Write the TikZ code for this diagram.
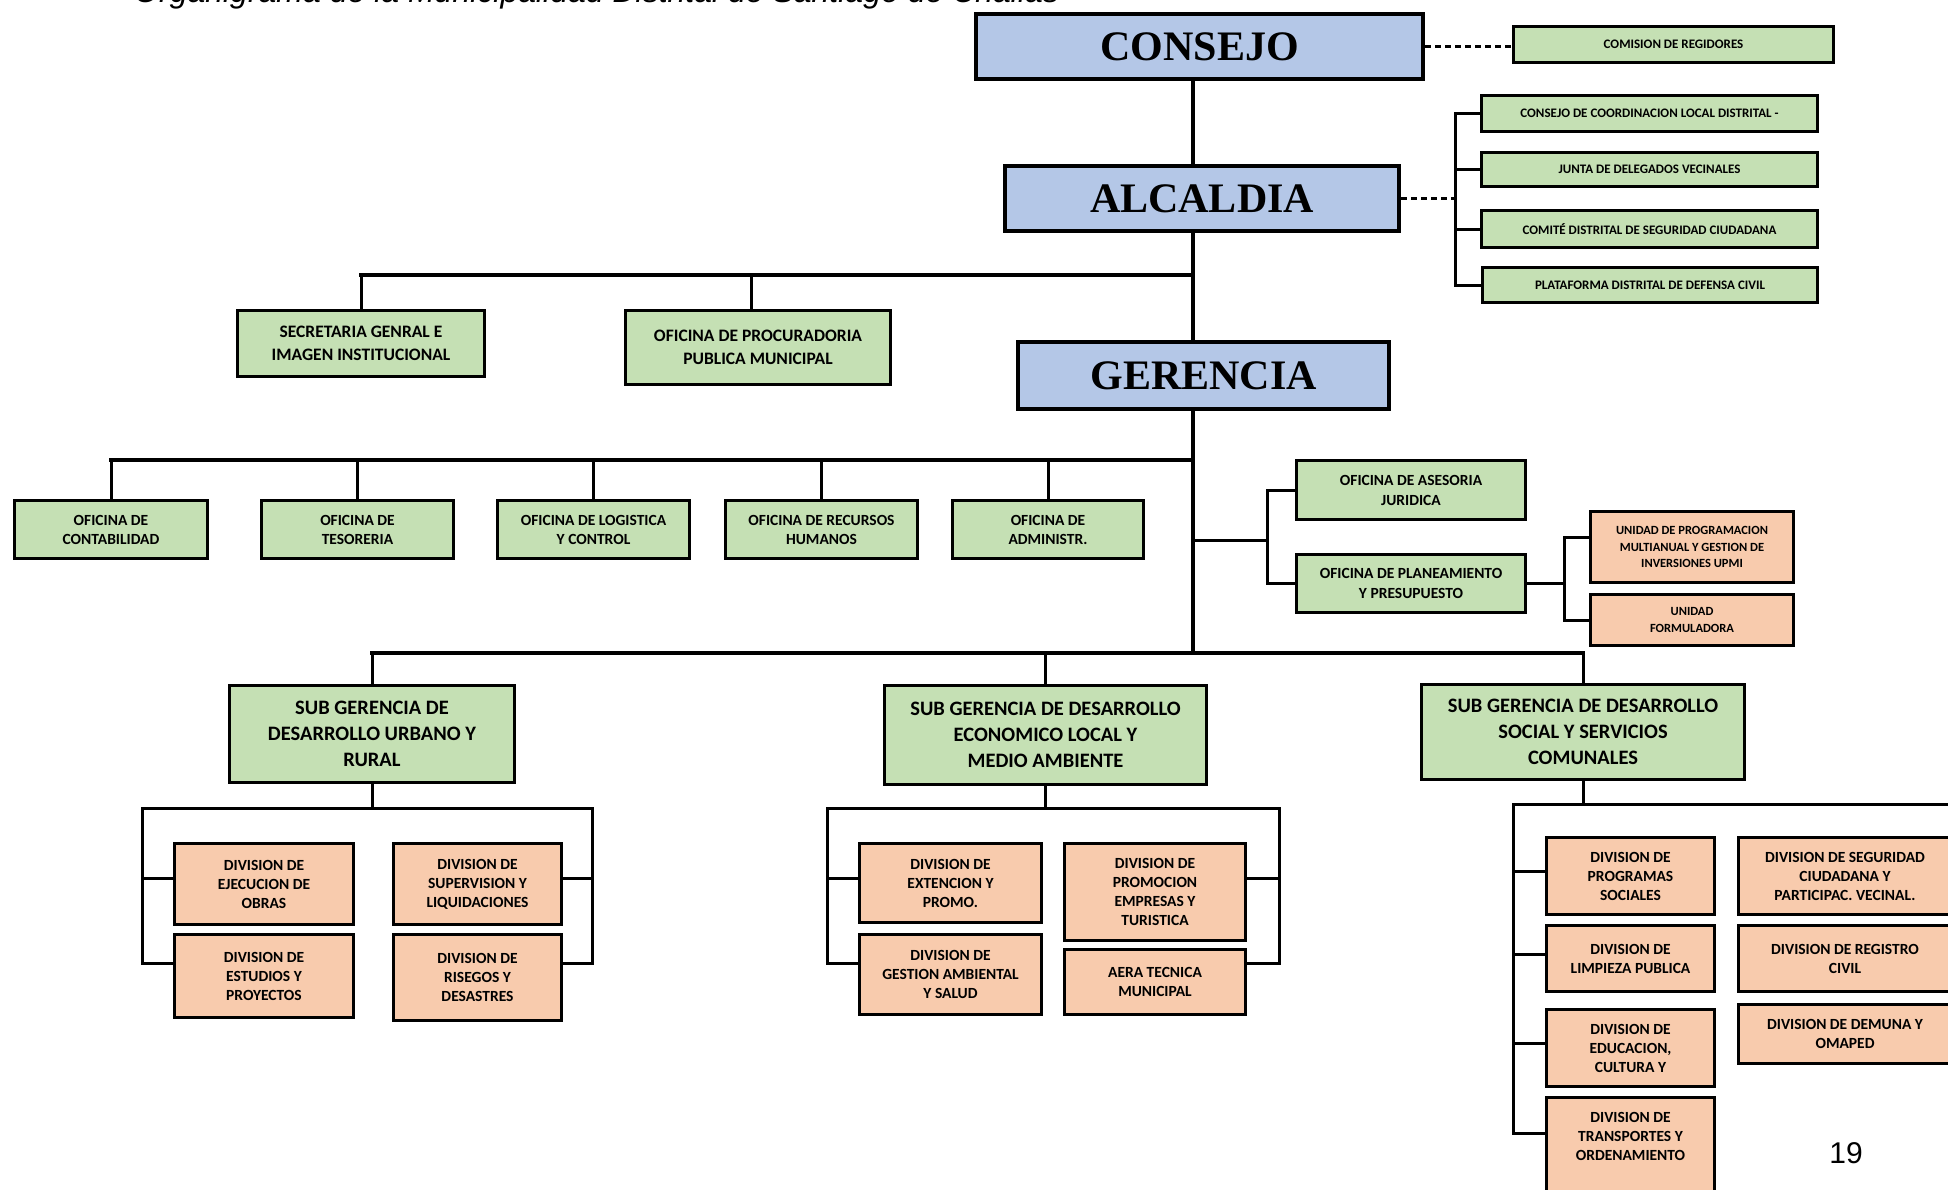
\documentclass[tikz,border=0pt]{standalone}
\usepackage{fontspec}
\setmainfont{Carlito}
\newfontfamily\timesbf{Liberation Serif}
\newfontfamily\arialf{Liberation Sans}
\usetikzlibrary{calc}
\definecolor{azul}{HTML}{B4C7E7}
\definecolor{verde}{HTML}{C5E0B4}
\definecolor{naranja}{HTML}{F8CBAD}
\newcommand\tam[2]{\fontsize{#1}{#2}\selectfont}

\begin{document}
\begin{tikzpicture}[x=1pt,y=-1pt,
    caja/.style={draw,line width=3pt,align=center,inner sep=0pt},
    jefe/.style={caja,line width=4pt,fill=azul,font=\timesbf\bfseries\tam{42}{48}},
    ofichica/.style={caja,fill=verde,font=\bfseries\tam{13}{16}},
    ofimedia/.style={caja,fill=verde,font=\bfseries\tam{15.5}{19}},
    ofigrande/.style={caja,fill=verde,font=\bfseries\tam{17.5}{23}},
    subger/.style={caja,fill=verde,font=\bfseries\tam{20.5}{26}},
    div/.style={caja,fill=naranja,font=\bfseries\tam{15.5}{19}},
    linea/.style={line width=3pt,line cap=rect},
    tronco/.style={line width=4pt,line cap=rect},
    punteado/.style={line width=2.5pt,dash pattern=on 6pt off 4pt}]
  \useasboundingbox (0,0) rectangle (1948,1189);

  \node[anchor=base west,inner sep=0pt,font=\arialf\itshape\tam{32}{36}] (titulo) at (134,2) {Organigrama de la Municipalidad Distrital de Santiago de Challas};

  \node[jefe,minimum width=447pt,minimum height=65pt] (consejo) at (1199.5,46.5) {CONSEJO};
  \node[jefe,minimum width=394pt,minimum height=65pt] (alcaldia) at (1202,198.5) {ALCALDIA};
  \node[jefe,minimum width=371pt,minimum height=67pt] (gerencia) at (1203.5,375.5) {GERENCIA};

  \node[ofichica,minimum width=320pt,minimum height=36pt] (comision) at (1673.5,44.5) {COMISION DE REGIDORES};
  \node[ofichica,minimum width=336pt,minimum height=36pt] (ccld) at (1649.5,113.5) {CONSEJO DE COORDINACION LOCAL DISTRITAL -};
  \node[ofichica,minimum width=336pt,minimum height=34pt] (junta) at (1649.5,169.5) {JUNTA DE DELEGADOS VECINALES};
  \node[ofichica,minimum width=336pt,minimum height=37pt] (comite) at (1649.5,229) {COMITÉ DISTRITAL DE SEGURIDAD CIUDADANA};
  \node[ofichica,minimum width=335pt,minimum height=35pt] (plata) at (1650,285) {PLATAFORMA DISTRITAL DE DEFENSA CIVIL};

  \node[ofigrande,minimum width=247pt,minimum height=66pt] (secre) at (361,343.5) {SECRETARIA GENRAL E\\IMAGEN INSTITUCIONAL};
  \node[ofigrande,minimum width=265pt,minimum height=74pt] (procu) at (758,347.5) {OFICINA DE PROCURADORIA\\PUBLICA MUNICIPAL};

  \node[ofimedia,minimum width=193pt,minimum height=58pt] (conta) at (111,529.5) {OFICINA DE\\CONTABILIDAD};
  \node[ofimedia,minimum width=192pt,minimum height=58pt] (teso) at (357.5,529.5) {OFICINA DE\\TESORERIA};
  \node[ofimedia,minimum width=192pt,minimum height=58pt] (logis) at (593.5,529.5) {OFICINA DE LOGISTICA\\Y CONTROL};
  \node[ofimedia,minimum width=192pt,minimum height=58pt] (rrhh) at (821.5,529.5) {OFICINA DE RECURSOS\\HUMANOS};
  \node[ofimedia,minimum width=191pt,minimum height=58pt] (admin) at (1048,529.5) {OFICINA DE\\ADMINISTR.};

  \node[ofimedia,font=\bfseries\tam{15.5}{20},minimum width=229pt,minimum height=59pt] (aseso) at (1411,490) {OFICINA DE ASESORIA\\JURIDICA};
  \node[ofimedia,font=\bfseries\tam{15.5}{20},minimum width=229pt,minimum height=58pt] (plane) at (1411,583.5) {OFICINA DE PLANEAMIENTO\\Y PRESUPUESTO};
  \node[div,font=\bfseries\tam{12.5}{16.5},minimum width=203pt,minimum height=71pt] (upmi) at (1692,547) {UNIDAD DE PROGRAMACION\\MULTIANUAL Y GESTION DE\\INVERSIONES UPMI};
  \node[div,font=\bfseries\tam{12.5}{16.5},minimum width=203pt,minimum height=51pt] (formu) at (1692,620) {UNIDAD\\FORMULADORA};

  \node[subger,minimum width=285pt,minimum height=97pt] (sgurb) at (372,734) {SUB GERENCIA DE\\DESARROLLO URBANO Y\\RURAL};
  \node[subger,minimum width=322pt,minimum height=99pt] (sgeco) at (1045.5,735) {SUB GERENCIA DE DESARROLLO\\ECONOMICO LOCAL Y\\MEDIO AMBIENTE};
  \node[subger,minimum width=323pt,minimum height=95pt] (sgsoc) at (1583,732) {SUB GERENCIA DE DESARROLLO\\SOCIAL Y SERVICIOS\\COMUNALES};

  \node[div,minimum width=179pt,minimum height=81pt] (ejec) at (264,884) {DIVISION DE\\EJECUCION DE\\OBRAS};
  \node[div,minimum width=179pt,minimum height=83pt] (estud) at (264,976) {DIVISION DE\\ESTUDIOS Y\\PROYECTOS};
  \node[div,minimum width=168pt,minimum height=81pt] (superv) at (477.5,884) {DIVISION DE\\SUPERVISION Y\\LIQUIDACIONES};
  \node[div,minimum width=168pt,minimum height=86pt] (riesg) at (477.5,977.5) {DIVISION DE\\RISEGOS Y\\DESASTRES};

  \node[div,minimum width=182pt,minimum height=79pt] (exten) at (950.5,883) {DIVISION DE\\EXTENCION Y\\PROMO.};
  \node[div,minimum width=182pt,minimum height=80pt] (gesti) at (950.5,974.5) {DIVISION DE\\GESTION AMBIENTAL\\Y SALUD};
  \node[div,minimum width=181pt,minimum height=97pt] (promo) at (1155,892) {DIVISION DE\\PROMOCION\\EMPRESAS Y\\TURISTICA};
  \node[div,minimum width=181pt,minimum height=65pt] (aera) at (1155,982) {AERA TECNICA\\MUNICIPAL};

  \node[div,minimum width=168pt,minimum height=77pt] (progr) at (1630.5,876) {DIVISION DE\\PROGRAMAS\\SOCIALES};
  \node[div,minimum width=168pt,minimum height=66pt] (limpi) at (1630.5,958.5) {DIVISION DE\\LIMPIEZA PUBLICA};
  \node[div,minimum width=168pt,minimum height=77pt] (educa) at (1630.5,1048) {DIVISION DE\\EDUCACION,\\CULTURA Y};
  \node[div,minimum width=168pt,minimum height=97pt] (trans) at (1630.5,1146) {DIVISION DE\\TRANSPORTES Y\\ORDENAMIENTO\\\mbox{}};
  \node[div,minimum width=214pt,minimum height=77pt] (segur) at (1845,876) {DIVISION DE SEGURIDAD\\CIUDADANA Y\\PARTICIPAC. VECINAL.};
  \node[div,minimum width=214pt,minimum height=66pt] (regis) at (1845,958.5) {DIVISION DE REGISTRO\\CIVIL};
  \node[div,minimum width=214pt,minimum height=59pt] (demun) at (1845,1034) {DIVISION DE DEMUNA Y\\OMAPED};

  \node[font=\arialf\tam{30}{36}] (pagina) at (1846,1153) {19};

  \coordinate (eje) at (1193,0);
  \coordinate (bus1) at (1193,275);
  \coordinate (bus2) at (1193,460);
  \coordinate (bus3) at (1193,653);
  \draw[tronco] (consejo.south -| eje) -- (alcaldia.north -| eje);
  \draw[tronco] (alcaldia.south -| eje) -- (gerencia.north -| eje);
  \draw[tronco] (gerencia.south -| eje) -- (bus3);
  \draw[tronco] (secre.north |- bus1) -- (bus1);
  \draw[linea] (secre.north) -- (secre.north |- bus1);
  \draw[linea] ([xshift=-7pt]procu.north) -- ([xshift=-7pt]procu.north |- bus1);
  \draw[tronco] (conta.north |- bus2) -- (bus2);
  \foreach \n in {conta,teso,logis,rrhh,admin}
    \draw[linea] (\n.north) -- (\n.north |- bus2);
  \draw[tronco] (sgurb.north |- bus3) -- (sgsoc.north |- bus3);
  \foreach \n in {sgurb,sgeco,sgsoc}
    \draw[linea] (\n.north) -- (\n.north |- bus3);

  \draw[punteado] (consejo.east) -- (consejo.east -| comision.west);
  \coordinate (r3) at (1455,201);
  \draw[punteado] (alcaldia.east) -- (alcaldia.east -| r3);
  \draw[linea] (ccld.west) -| (r3) |- (plata.west);
  \draw[linea] (junta.west) -- (junta.west -| r3);
  \draw[linea] (comite.west) -- (comite.west -| r3);

  \coordinate (r1) at (1267,540);
  \draw[linea] (r1 -| eje) -- (r1);
  \draw[linea] (aseso.west) -| (r1) |- (plane.west);
  \coordinate (r2) at (1564,582);
  \draw[linea] (plane.east) -- (plane.east -| r2);
  \draw[linea] ([yshift=10pt]upmi.west) -| (r2) |- (formu.west);

  \coordinate (u1) at (142,808);
  \coordinate (u2) at (592,808);
  \draw[linea] (sgurb.south) -- (sgurb.south |- u1);
  \draw[linea] ([yshift=13pt]estud.west) -| (u1) -- (u2) |- ([yshift=14pt]riesg.east);
  \draw[linea] ([yshift=6pt]ejec.west) -- ([yshift=6pt]ejec.west -| u1);
  \draw[linea] ([yshift=6pt]superv.east) -- ([yshift=6pt]superv.east -| u2);

  \coordinate (e1) at (827,808);
  \coordinate (e2) at (1279,808);
  \draw[linea] (sgeco.south) -- (sgeco.south |- e1);
  \draw[linea] ([yshift=11pt]gesti.west) -| (e1) -- (e2) |- ([yshift=19pt]aera.east);
  \draw[linea] ([yshift=5pt]exten.west) -- ([yshift=5pt]exten.west -| e1);
  \draw[linea] ([yshift=14pt]promo.east) -- ([yshift=14pt]promo.east -| e2);

  \coordinate (s1) at (1513,804);
  \coordinate (s2) at (1960,804);
  \draw[linea] (sgsoc.south) -- (sgsoc.south |- s1);
  \draw[linea] (s2) -- (s1) |- ([yshift=13pt]trans.west);
  \draw[linea] ([yshift=5pt]progr.west) -- ([yshift=5pt]progr.west -| s1);
  \draw[linea] ([yshift=4pt]limpi.west) -- ([yshift=4pt]limpi.west -| s1);
  \draw[linea] ([yshift=5pt]educa.west) -- ([yshift=5pt]educa.west -| s1);
\end{tikzpicture}
\end{document}
